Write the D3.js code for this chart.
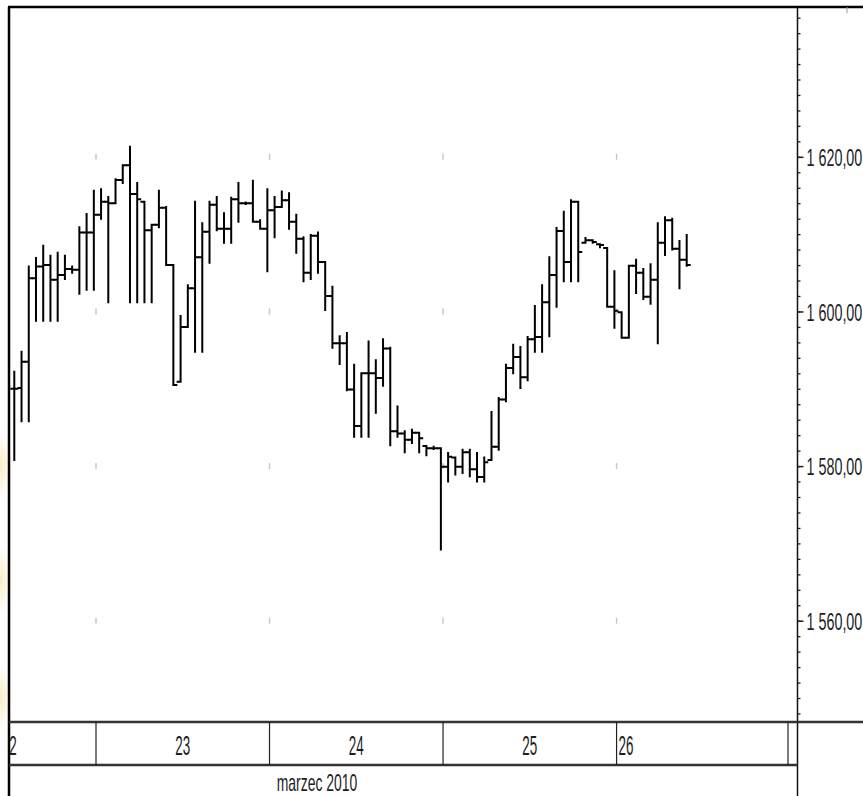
<!DOCTYPE html>
<html>
<head>
<meta charset="utf-8">
<script src="https://cdn.jsdelivr.net/npm/d3@7"></script>
<style>
  html, body { margin: 0; padding: 0; background: #fff; }
  svg { display: block; }
  text { font-family: "Liberation Sans", Arial, sans-serif; fill: #1e1e1e; }
</style>
</head>
<body>
<svg id="chart" width="863" height="796"></svg>
<script>
// Hourly OHLC, 22-26 March 2010
const opens = [
  1590.0, 1590.1, 1593.5, 1604.3, 1605.8, 1606.0, 1604.1, 1604.7, 1605.5, 1605.4,
  1610.2, 1610.2, 1612.5, 1614.2, 1614.0, 1617.0, 1618.9, 1615.2, 1614.2, 1610.5,
  1611.2, 1613.4, 1606.0, 1590.9, 1598.0, 1603.0, 1607.0, 1610.3, 1613.8, 1610.7,
  1610.7, 1614.5, 1614.0, 1614.0, 1611.6, 1610.7, 1613.1, 1613.5, 1614.4, 1611.6,
  1609.4, 1605.0, 1609.8, 1606.4, 1602.0, 1595.9, 1595.9, 1589.9, 1585.2, 1592.0,
  1592.0, 1591.4, 1595.2, 1584.5, 1584.2, 1583.4, 1584.3, 1582.6, 1582.3, 1582.3,
  1579.9, 1581.1, 1579.9, 1581.8, 1579.6, 1578.6, 1580.8, 1582.5, 1588.6, 1592.7,
  1594.1, 1591.5, 1596.4, 1596.7, 1601.2, 1604.7, 1610.4, 1606.4, 1614.2, 1608.9,
  1609.2, 1608.7, 1608.2, 1600.6, 1599.9, 1596.6, 1605.9, 1605.0, 1601.9, 1604.1,
  1608.9, 1611.8, 1608.1, 1606.7
];
const highs = [
  1592.2, 1594.8, 1605.8, 1606.9, 1608.5, 1607.2, 1607.6, 1607.2, 1605.8, 1610.9,
  1612.6, 1615.6, 1615.8, 1614.8, 1617.1, 1618.9, 1621.3, 1616.6, 1614.2, 1611.2,
  1615.6, 1613.5, 1606.0, 1599.4, 1603.4, 1614.2, 1611.4, 1614.2, 1614.8, 1612.7,
  1614.7, 1616.6, 1614.1, 1616.9, 1611.8, 1615.8, 1614.8, 1615.5, 1615.3, 1612.5,
  1609.6, 1609.9, 1610.2, 1606.4, 1603.2, 1596.8, 1597.2, 1593.1, 1592.0, 1596.1,
  1593.7, 1596.4, 1595.3, 1587.7, 1584.5, 1584.7, 1584.3, 1582.6, 1582.5, 1582.3,
  1581.7, 1581.1, 1582.1, 1582.1, 1581.7, 1581.1, 1587.0, 1588.8, 1593.1, 1595.7,
  1595.4, 1596.7, 1600.7, 1603.4, 1607.0, 1610.8, 1612.9, 1614.4, 1614.2, 1609.5,
  1609.2, 1608.7, 1608.2, 1605.2, 1599.9, 1605.9, 1606.7, 1605.5, 1606.1, 1611.4,
  1612.2, 1612.0, 1609.1, 1609.9
];
const lows = [
  1580.8, 1585.8, 1585.8, 1598.8, 1598.8, 1598.8, 1598.8, 1604.2, 1605.0, 1602.3,
  1602.8, 1602.8, 1612.0, 1601.2, 1614.0, 1616.6, 1601.2, 1601.2, 1601.2, 1601.2,
  1610.9, 1606.0, 1590.5, 1590.9, 1598.0, 1594.8, 1594.8, 1606.3, 1610.5, 1608.9,
  1608.9, 1611.6, 1613.9, 1611.6, 1610.7, 1605.2, 1609.6, 1613.5, 1610.7, 1607.6,
  1603.9, 1604.2, 1605.0, 1600.2, 1595.3, 1593.2, 1589.8, 1583.8, 1583.8, 1583.8,
  1586.9, 1590.4, 1582.7, 1583.8, 1581.8, 1583.0, 1581.8, 1581.4, 1582.2, 1569.2,
  1578.0, 1578.9, 1579.1, 1578.7, 1578.0, 1578.0, 1580.8, 1582.1, 1588.4, 1592.0,
  1590.1, 1591.1, 1594.8, 1594.8, 1596.8, 1600.6, 1603.9, 1603.9, 1603.9, 1608.9,
  1608.9, 1608.3, 1600.6, 1597.9, 1596.6, 1596.6, 1602.4, 1601.6, 1601.0, 1595.9,
  1607.3, 1608.0, 1603.0, 1605.9
];
const closes = [
  1590.0, 1593.5, 1604.3, 1605.8, 1606.0, 1604.1, 1604.7, 1605.5, 1605.4, 1610.2,
  1610.2, 1612.5, 1614.2, 1614.0, 1617.0, 1618.9, 1615.2, 1614.5, 1610.5, 1611.2,
  1613.4, 1606.0, 1590.5, 1598.0, 1603.0, 1607.0, 1610.3, 1613.8, 1610.7, 1610.7,
  1614.5, 1614.0, 1614.0, 1611.6, 1610.7, 1613.1, 1613.5, 1614.4, 1611.6, 1609.4,
  1605.0, 1609.8, 1606.4, 1602.0, 1595.9, 1595.9, 1589.9, 1585.2, 1592.0, 1592.0,
  1591.4, 1595.2, 1584.5, 1584.2, 1583.4, 1584.3, 1583.6, 1582.3, 1582.3, 1579.9,
  1581.2, 1579.9, 1581.8, 1579.6, 1578.6, 1580.5, 1582.5, 1588.6, 1592.7, 1594.1,
  1591.5, 1596.4, 1596.7, 1601.2, 1604.7, 1610.4, 1606.4, 1614.2, 1607.7, 1609.2,
  1609.0, 1608.6, 1600.6, 1600.1, 1596.6, 1605.9, 1605.0, 1601.9, 1604.1, 1608.9,
  1611.8, 1608.1, 1606.7, 1606.0
];

// Days on the time axis, with the bar index where each one begins
const dayLabels = ['22', '23', '24', '25', '26'];
const dayStarts = [-12, 12, 36, 60, 84];
const monthLabel = 'marzec 2010';

// Price ticks
const minorTicks = d3.range(1548, 1640, 2);
const majorTicks = [1560, 1580, 1600, 1620];

const bars = opens.map((o, i) => ({
  i, o, h: highs[i], l: lows[i], c: closes[i]
}));

// Layout
const W = 863, H = 796;
const frameLeft = 9, frameTop = 7, plotBottom = 722, bandBottom = 765;
const axisX = 797.5, plotRight = 788;
const tick = 4;
const narrow = 0.82;   // squeeze Liberation Sans to an Arial Narrow look

const svg = d3.select('#chart');

const x = d3.scaleLinear().domain([0, bars.length - 1]).range([14.3, 686.7]);
const y = d3.scaleLinear().domain([1546.9, 1639.25]).range([plotBottom, frameTop + 1]);

// Day boundary sits a little before the first bar of the day
const boundary = i => x(i - 0.7);

const pl = d3.formatLocale({ decimal: ',', thousands: '\u00a0', grouping: [3], currency: ['', ''] });
const priceFmt = pl.format(',.2f');

// faint watermark patches on the left edge
const defs = svg.append('defs');
const grad = defs.append('radialGradient').attr('id', 'glow');
grad.append('stop').attr('offset', '0%').attr('stop-color', '#f8e7b8').attr('stop-opacity', 0.8);
grad.append('stop').attr('offset', '100%').attr('stop-color', '#f8e7b8').attr('stop-opacity', 0);
svg.append('g')
  .selectAll('ellipse')
  .data([465, 580, 697])
  .join('ellipse')
  .attr('cx', 0).attr('cy', d => d)
  .attr('rx', 12).attr('ry', 34)
  .attr('fill', 'url(#glow)');

defs.append('clipPath').attr('id', 'plot')
  .append('rect').attr('x', frameLeft + 1).attr('y', frameTop)
  .attr('width', axisX - frameLeft - 1).attr('height', H - frameTop);

// Grid: small grey marks where day boundaries meet the major price levels
const grid = svg.append('g').attr('class', 'grid');
dayStarts.slice(1).forEach(s => {
  grid.selectAll(null)
    .data(majorTicks)
    .join('line')
    .attr('x1', boundary(s)).attr('x2', boundary(s))
    .attr('y1', v => y(v) - 3).attr('y2', v => y(v) + 3)
    .style('stroke', '#c8c8c8')
    .style('stroke-width', 1.5);
});

// OHLC bars
svg.append('g')
  .attr('clip-path', 'url(#plot)')
  .selectAll('path')
  .data(bars)
  .join('path')
  .attr('d', d => {
    const cx = x(d.i);
    return `M${cx},${y(d.h) - 1}V${y(d.l) + 1}` +
      `M${cx - tick},${y(d.o)}H${cx}` +
      `M${cx},${y(d.c)}H${cx + tick}`;
  })
  .style('fill', 'none')
  .style('stroke', '#000')
  .style('stroke-width', 2);

// Right price axis: minor ticks every 2, labelled ticks every 20
const minorAxis = d3.axisRight(y).tickValues(minorTicks).tickSize(3).tickFormat('');
const majorAxis = d3.axisRight(y).tickValues(majorTicks).tickSize(6).tickFormat(priceFmt);

svg.append('g').attr('transform', `translate(${axisX},0)`).call(minorAxis)
  .call(g => g.select('.domain').remove())
  .call(g => g.selectAll('line').style('stroke', '#222').style('stroke-width', 1.3));

svg.append('g').attr('transform', `translate(${axisX},0)`).call(majorAxis)
  .call(g => g.select('.domain').remove())
  .call(g => g.selectAll('line').style('stroke', '#222').style('stroke-width', 1.5))
  .call(g => g.selectAll('text')
    .attr('fill', null)
    .attr('x', 0)
    .attr('dy', '0.36em')
    .style('font-size', '17.5px')
    .attr('transform', `translate(9,0) scale(${narrow},1.36)`));

// Frame
svg.append('line').attr('x1', frameLeft - 1).attr('x2', W).attr('y1', frameTop).attr('y2', frameTop)
  .style('stroke', '#000').style('stroke-width', 2.5);
svg.append('line').attr('x1', frameLeft).attr('x2', frameLeft).attr('y1', frameTop).attr('y2', H)
  .style('stroke', '#000').style('stroke-width', 2.5);
svg.append('line').attr('x1', axisX).attr('x2', axisX).attr('y1', frameTop).attr('y2', H)
  .style('stroke', '#111').style('stroke-width', 1.5);
svg.append('line').attr('x1', 847).attr('x2', 847).attr('y1', frameTop).attr('y2', frameTop + 6)
  .style('stroke', '#999').style('stroke-width', 1);

// Date band
const band = svg.append('g');
band.append('line').attr('x1', frameLeft).attr('x2', W).attr('y1', plotBottom).attr('y2', plotBottom)
  .style('stroke', '#333').style('stroke-width', 2.5);
band.append('line').attr('x1', frameLeft).attr('x2', axisX).attr('y1', bandBottom).attr('y2', bandBottom)
  .style('stroke', '#333').style('stroke-width', 2.5);

band.selectAll('line.sep')
  .data(dayStarts.slice(1).map(boundary).concat([plotRight]))
  .join('line')
  .attr('class', 'sep')
  .attr('x1', d => d).attr('x2', d => d)
  .attr('y1', plotBottom).attr('y2', bandBottom)
  .style('stroke', '#222').style('stroke-width', 1.2);

const bandMid = (plotBottom + bandBottom) / 2;
band.append('g').attr('clip-path', 'url(#plot)')
  .selectAll('text')
  .data(dayLabels.map((t, k) => ({ t, s: dayStarts[k], last: k === dayLabels.length - 1 })))
  .join('text')
  .attr('transform', d => {
    const tx = d.last ? boundary(d.s) + 2 : boundary(d.s + 12);
    return `translate(${tx},${bandMid + 1}) scale(${narrow},1.7)`;
  })
  .attr('dy', '0.36em')
  .style('text-anchor', d => d.last ? 'start' : 'middle')
  .style('font-size', '16.4px')
  .text(d => d.t);

svg.append('text')
  .attr('transform', `translate(317,${bandBottom + 17}) scale(${narrow},1.4)`)
  .attr('dy', '0.36em')
  .style('text-anchor', 'middle')
  .style('font-size', '17px')
  .text(monthLabel);
</script>
</body>
</html>
